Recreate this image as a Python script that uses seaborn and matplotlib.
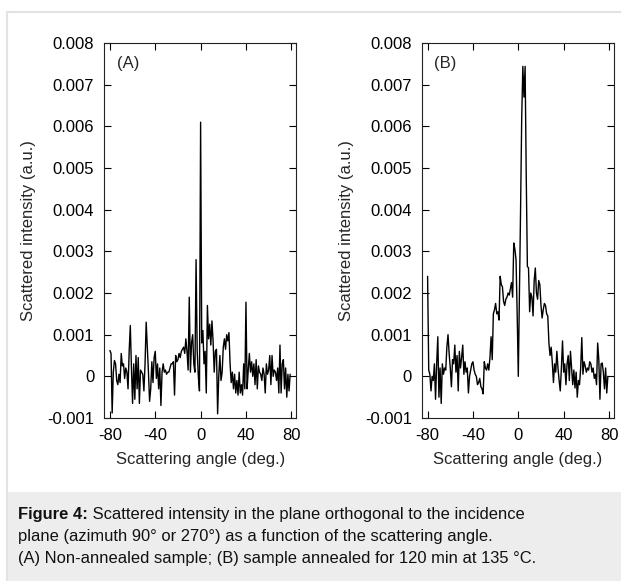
"""
Scattered intensity vs scattering angle, two panels (A) and (B)
"""

import numpy as np
import pandas as pd
import matplotlib
matplotlib.use("Agg")
import matplotlib.pyplot as plt
from matplotlib.patches import Rectangle
from matplotlib.lines import Line2D
import seaborn as sns

# angles in degrees, -80 .. 79 in 1 deg steps
angles = np.arange(-80, 80)

# panel (A) non-annealed sample, values in units of 1e-3
intensity_a = [
    0.62, 0.55, -0.88, 0.1, 0.38, 0.3, -0.1, -0.2, 0.05, -0.15,     # -80
    0.55, 0.25, 0.3, -0.05, 0.2, 0.1, -0.3, 0.6, 1.22, 0.2,         # -70
    -0.65, 0.3, -0.55, 0.5, -0.3, 0.45, -0.65, 0.15, 0.1, 0.05,     # -60
    -0.35, 0.3, 1.3, 0.7, 0.1, -0.6, -0.3, 0.35, -0.15, 0.45,       # -50
    0.6, -0.05, 0.3, -0.3, 0.2, -0.7, 0.1, 0.3, 0.1, 0.15,          # -40
    0.05, 0.1, 0.1, 0.2, 0.3, 0.3, 0.35, -0.45, 0.5, 0.35,          # -30
    0.4, 0.55, 0.45, 0.6, 0.65, 0.7, 0.55, 0.9, 0.6, 0.15,          # -20
    1.9, 0.1, 0.8, 1.0, 0.3, 0.1, 2.8, 0.6, 0.0, -0.35,             # -10
    6.1, 0.8, 1.1, 0.3, 0.6, -0.4, 1.7, 0.9, 1.25, 0.75,            # 0
    1.33, 0.85, 0.1, 0.6, 0.65, -0.9, 0.0, 0.5, -0.1, 0.1,          # 10
    0.7, 0.9, 0.65, 1.0, 0.85, 1.05, 0.3, -0.15, 0.1, -0.3,         # 20
    0.05, -0.4, -0.1, -0.45, 0.1, -0.4, -0.2, -0.45, 0.3, -0.3,     # 30
    1.78, -0.3, 0.15, 0.55, 0.1, 0.35, 0.0, 0.3, -0.2, 0.4,         # 40
    -0.3, 0.25, 0.1, 0.05, -0.1, 0.2, 0.05, -0.4, 0.3, 0.05,        # 50
    0.15, 0.5, -0.2, 0.5, 0.0, 0.15, 0.1, -0.1, 0.2, -0.4,          # 60
    0.75, -0.4, 0.3, 0.4, -0.3, 0.2, -0.5, 0.05, -0.35, 0.05,       # 70
]

# panel (B) annealed sample, values in units of 1e-3
intensity_b = [
    2.4, 0.15, 0.05, -0.35, 0.0, -0.1, 0.3, -0.55, 0.3, 0.95,       # -80
    -0.5, 0.2, -0.65, 0.3, 0.05, 0.2, 0.15, 0.7, 1.0, 0.55,         # -70
    0.2, -0.25, 0.4, 0.3, 0.75, 0.1, 0.5, -0.35, 0.6, 0.2,          # -60
    0.45, 0.75, 0.05, 0.35, 0.1, 0.2, -0.4, 0.0, 0.15, 0.3,         # -50
    0.35, 0.15, 0.05, 0.0, -0.2, -0.15, -0.05, -0.25, -0.3, -0.42,  # -40
    0.35, 0.2, 0.15, 0.3, 0.15, 0.45, 0.95, 0.4, 1.5, 1.6,          # -30
    1.75, 1.5, 1.55, 1.35, 2.4, 2.2, 2.15, 1.8, 1.7, 1.85,          # -20
    1.9, 2.0, 1.95, 2.1, 2.25, 1.9, 3.2, 3.05, 2.8, 1.5,            # -10
    0.0, 2.0, 4.0, 6.2, 7.44, 6.7, 7.44, 4.8, 2.64, 2.6,            # 0
    1.55, 2.0, 1.9, 1.45, 2.3, 2.6, 2.0, 1.85, 2.3, 2.2,            # 10
    1.7, 1.4, 1.6, 1.75, 1.7, 1.5, 1.45, 0.8, 0.5, 0.7,             # 20
    0.33, -0.15, 0.3, 0.1, 0.6, 0.2, -0.1, -0.35, 0.2, 0.85,        # 30
    0.1, 0.3, -0.2, 0.3, 0.5, -0.1, 0.6, 0.2, -0.2, 0.15,           # 40
    -0.28, 0.1, -0.5, -0.1, -0.2, 0.2, 0.93, 0.05, 0.35, 0.25,      # 50
    0.1, 0.2, 0.15, 0.35, 0.3, 0.1, 0.2, -0.05, 0.05, -0.2,         # 60
    0.8, 0.4, -0.55, 0.3, 0.32, 0.1, -0.3, 0.2, -0.4, 0.0,          # 70
]

panel_tags = ["(A)", "(B)"]
x_ticks = [-80, -40, 0, 40, 80]
y_ticks = [-0.001, 0, 0.001, 0.002, 0.003, 0.004, 0.005, 0.006, 0.007, 0.008]
y_tick_labels = ["-0.001", "0", "0.001", "0.002", "0.003", "0.004",
                 "0.005", "0.006", "0.007", "0.008"]
x_label = "Scattering angle (deg.)"
y_label = "Scattered intensity (a.u.)"

caption_bold = "Figure 4:"
caption_lines = [
    " Scattered intensity in the plane orthogonal to the incidence",
    "plane (azimuth 90\u00b0 or 270\u00b0) as a function of the scattering angle.",
    "(A) Non-annealed sample; (B) sample annealed for 120 min at 135 \u00b0C.",
]

sns.set_theme(style="ticks")
plt.rcParams['font.family'] = ['Liberation Sans', 'DejaVu Sans']
plt.rcParams['axes.unicode_minus'] = False

W, H = 621, 581
fig = plt.figure(figsize=(W / 100, H / 100), dpi=100)
fig.patch.set_facecolor('white')

# outer page frame and caption box
fig.add_artist(Line2D([7 / W, 1], [1 - 12 / H, 1 - 12 / H], color='#e3e3e3', lw=1.5))
fig.add_artist(Line2D([7 / W, 7 / W], [0, 1 - 12 / H], color='#e3e3e3', lw=1.5))
fig.add_artist(Rectangle((7 / W, 0), 1 - 7 / W, 89 / H, facecolor='#ededed',
                         edgecolor='none', transform=fig.transFigure, zorder=0))

df = pd.DataFrame({
    'angle': np.concatenate([angles, angles]),
    'intensity': np.concatenate([intensity_a, intensity_b]) * 1e-3,
    'panel': ['A'] * len(angles) + ['B'] * len(angles),
})

axes_left = [104 / W, 421.7 / W]
for i, (panel, left) in enumerate(zip(['A', 'B'], axes_left)):
    ax = fig.add_axes([left, 1 - 418 / H, 192.3 / W, 375 / H])
    sub = df[df['panel'] == panel]
    sns.lineplot(data=sub, x='angle', y='intensity', ax=ax, color='black',
                 linewidth=1.0, estimator=None, sort=False)
    ax.set_xlim(-85.2, 84.4)
    ax.set_ylim(-0.001, 0.008)
    ax.set_xticks(x_ticks)
    ax.set_xticklabels([str(t) for t in x_ticks])
    ax.set_yticks(y_ticks)
    ax.set_yticklabels(y_tick_labels)
    ax.tick_params(direction='in', length=5, width=0.8, top=True, right=True,
                   labelsize=12, pad=7, colors='black')
    for s in ax.spines.values():
        s.set_visible(True)
        s.set_linewidth(0.8)
        s.set_color('#222222')
    ax.set_xlabel(x_label, fontsize=12, labelpad=7)
    ax.set_ylabel(y_label, fontsize=12, labelpad=8)
    ax.text(-74, 0.0075, panel_tags[i], fontsize=12, va='center', ha='left')

# caption with bold lead-in
renderer = fig.canvas.get_renderer()
cap_x = 18 / W
cap_size = 11.9
t = fig.text(cap_x, 1 - 515 / H, caption_bold, fontsize=cap_size, fontweight='bold',
             va='center', ha='left', color='#111111')
bb = t.get_window_extent(renderer=renderer)
fig.text(bb.x1 / W, 1 - 515 / H, caption_lines[0], fontsize=cap_size, va='center',
         ha='left', color='#111111')
fig.text(cap_x, 1 - 537 / H, caption_lines[1], fontsize=cap_size, va='center',
         ha='left', color='#111111')
fig.text(cap_x, 1 - 558 / H, caption_lines[2], fontsize=cap_size, va='center',
         ha='left', color='#111111')

fig.savefig("out.png", dpi=100)
